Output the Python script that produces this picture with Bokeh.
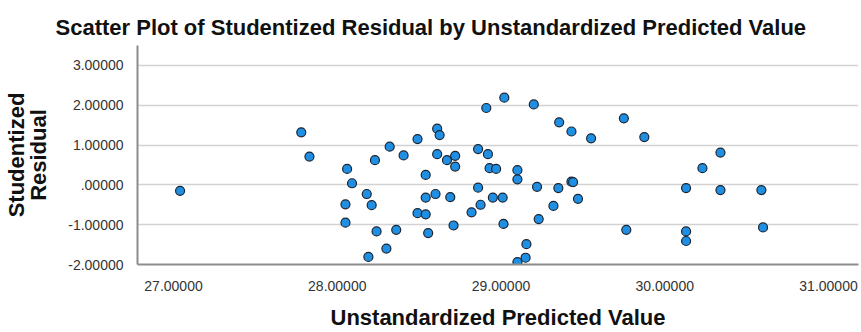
from bokeh.plotting import figure
from bokeh.models import Range1d, FixedTicker, Title
from bokeh.embed import file_html
from bokeh.resources import INLINE

# Unstandardized predicted value (x) and studentized residual (y)
pred = [27.04, 27.78, 27.83, 29.02, 28.91, 28.61, 28.625, 28.49, 28.32, 28.405,
        28.23, 28.06, 28.09, 28.61, 28.67, 28.72, 28.72, 28.54, 28.86, 28.92,
        28.93, 28.97, 28.86, 28.18, 28.21, 28.05, 28.05, 28.54, 28.60, 28.69,
        28.95, 29.01, 28.875, 28.82, 28.49, 28.54, 28.71, 29.015, 28.24, 28.36,
        28.555, 28.30, 28.19, 29.20, 29.355, 29.43, 29.55, 29.75, 29.875, 29.10,
        29.10, 29.22, 29.35, 29.43, 29.44, 29.47, 29.32, 29.23, 29.765, 30.13,
        30.13, 30.13, 29.155, 29.15, 29.10, 30.34, 30.23, 30.34, 30.59, 30.60]
resid = [-0.15, 1.32, 0.71, 2.19, 1.93, 1.41, 1.25, 1.15, 0.96, 0.74,
         0.62, 0.40, 0.04, 0.77, 0.62, 0.73, 0.46, 0.25, 0.90, 0.77,
         0.42, 0.40, -0.07, -0.23, -0.51, -0.49, -0.95, -0.32, -0.23, -0.31,
         -0.32, -0.32, -0.50, -0.69, -0.71, -0.74, -1.02, -0.98, -1.17, -1.13,
         -1.21, -1.60, -1.81, 2.02, 1.57, 1.34, 1.17, 1.67, 1.20, 0.37,
         0.14, -0.05, -0.08, 0.08, 0.07, -0.35, -0.53, -0.86, -1.13, -0.08,
         -1.17, -1.41, -1.49, -1.83, -1.94, 0.81, 0.42, -0.13, -0.13, -1.07]

x_ticks = [27, 28, 29, 30, 31]
x_tick_labels = ["27.00000", "28.00000", "29.00000", "30.00000", "31.00000"]
y_ticks = [-2, -1, 0, 1, 2, 3]
y_tick_labels = ["-2.00000", "-1.00000", ".00000", "1.00000", "2.00000", "3.00000"]

FONT = "Liberation Sans"

p = figure(width=861, height=332, output_backend="svg", toolbar_location=None,
           x_range=Range1d(26.78, 31.183), y_range=Range1d(-2, 3.5),
           min_border_left=136, min_border_right=3, min_border_top=45,
           min_border_bottom=67)
p.outline_line_color = None
p.background_fill_color = "white"

t = Title(text="Scatter Plot of Studentized Residual by Unstandardized Predicted Value",
          align="left", offset=-82, standoff=12, text_font=FONT,
          text_font_size="22px", text_font_style="bold", text_color="#111111")
p.add_layout(t, "above")

for ax in (p.xaxis, p.yaxis):
    ax.major_tick_line_color = None
    ax.minor_tick_line_color = None
    ax.axis_line_color = "#8c8c8c"
    ax.axis_line_width = 2
    ax.major_label_text_font = FONT
    ax.major_label_text_font_size = "14px"
    ax.major_label_text_color = "#333333"
    ax.axis_label_text_font = FONT
    ax.axis_label_text_font_size = "22px"
    ax.axis_label_text_font_style = "bold"
    ax.axis_label_text_color = "#111111"

p.xaxis.major_label_standoff = 10
p.yaxis.major_label_standoff = 8
p.xaxis.ticker = FixedTicker(ticks=x_ticks)
p.xaxis.major_label_overrides = dict(zip(x_ticks, x_tick_labels))
p.yaxis.ticker = FixedTicker(ticks=y_ticks)
p.yaxis.major_label_overrides = dict(zip(y_ticks, y_tick_labels))
p.xaxis.axis_label = "Unstandardized Predicted Value"
p.yaxis.axis_label = "Studentized\nResidual"
p.yaxis.axis_label_text_line_height = 0.9
p.xaxis.axis_label_standoff = 11
p.yaxis.axis_label_standoff = 14

p.xgrid.grid_line_color = None
p.ygrid.grid_line_color = "#d2d2d2"
p.ygrid.grid_line_width = 1.5

p.scatter(pred, resid, size=9, marker="circle", fill_color="#1f8fe3",
          line_color="#1c2633", line_width=1.2)

open("out.html", "w").write(file_html(p, INLINE))
